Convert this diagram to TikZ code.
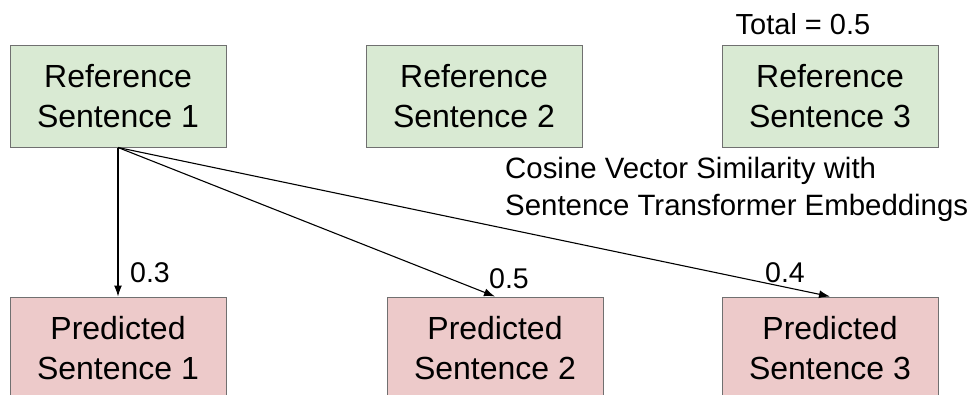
\documentclass[tikz,border=0pt]{standalone}
\usepackage{fontspec}
\setmainfont{Liberation Sans}
\usetikzlibrary{arrows.meta}
\definecolor{refgreen}{HTML}{D9EAD3}
\definecolor{predred}{HTML}{EDCACA}
\definecolor{boxline}{HTML}{707070}
\begin{document}
\begin{tikzpicture}[
    x=1pt, y=-1pt,
    refbox/.style={rectangle, draw=boxline, fill=refgreen, line width=1pt, minimum width=216pt, minimum height=102pt, align=center, font=\fontsize{32}{40}\selectfont},
    predbox/.style={refbox, fill=predred},
    score/.style={font=\fontsize{28.5}{34}\selectfont, inner sep=0pt},
    link/.style={-{Latex[length=11pt, width=8pt]}, line width=1.1pt}
]
\useasboundingbox (0,0) rectangle (972,394);
\clip (0,0) rectangle (972,394);
% Riferimenti
\node[refbox] (r1) at (118,96) {Reference\\Sentence 1};
\node[refbox] (r2) at (474,96) {Reference\\Sentence 2};
\node[refbox] (r3) at (830,96) {Reference\\Sentence 3};
\node[score, font=\fontsize{29}{34}\selectfont] (total) at (803,24) {Total = 0.5};

% Predizioni
\node[predbox] (p1) at (118,348) {Predicted\\Sentence 1};
\node[predbox] (p2) at (495,348) {Predicted\\Sentence 2};
\node[predbox] (p3) at (830,348) {Predicted\\Sentence 3};

\draw[link] (r1.south) -- (p1.north);
\draw[link] (r1.south) -- (p2.north);
\draw[link] (r1.south) -- (p3.north);

% Punteggi
\node[score] (s1) at (150,273) {0.3};
\node[score] (s2) at (509,279) {0.5};
\node[score] (s3) at (785,273) {0.4};
\node[anchor=west, align=left, inner sep=0pt, font=\fontsize{29.4}{37}\selectfont] (method) at (505,189) {Cosine Vector Similarity with\\Sentence Transformer Embeddings};
\end{tikzpicture}
\end{document}
